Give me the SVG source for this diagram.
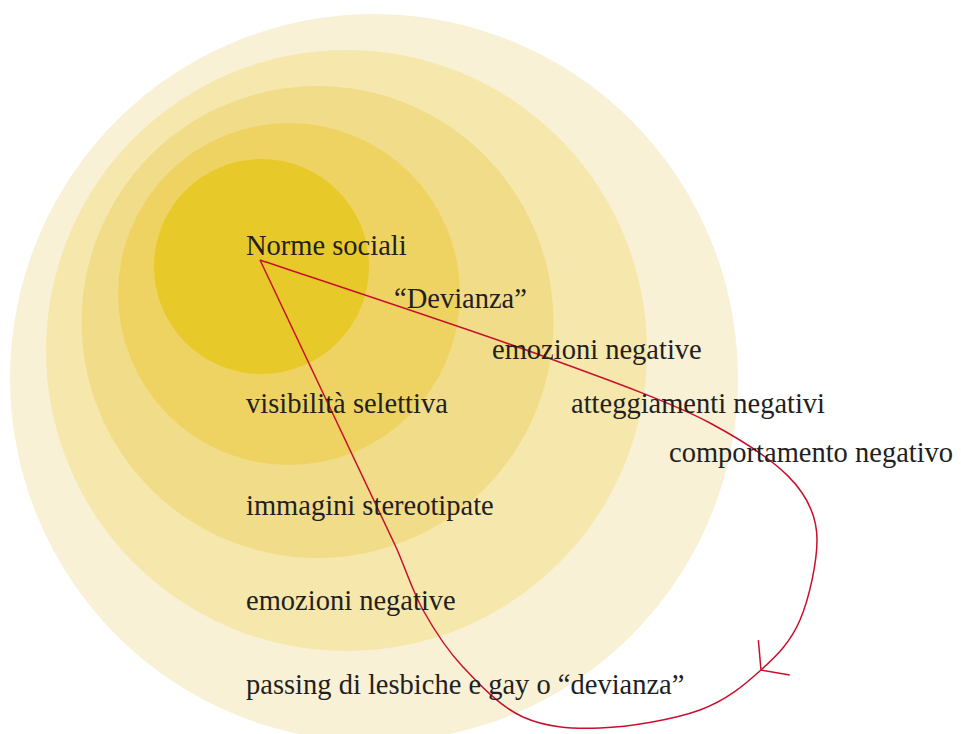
<svg xmlns="http://www.w3.org/2000/svg" width="961" height="734" viewBox="0 0 961 734">
<style>
.lbl{font-family:"Liberation Serif","Times New Roman",serif;font-size:28.5px;fill:#231F20}
.con{fill:none;stroke:#C8102E;stroke-width:1.5;stroke-linejoin:round}
</style>
<defs>
<marker id="arr" viewBox="-35 -30 40 60" refX="0" refY="0" markerWidth="40" markerHeight="60" markerUnits="userSpaceOnUse" orient="auto">
<path d="M-18,-23 L0,0 L-18,24" fill="none" stroke="#C8102E" stroke-width="1.5"/>
</marker>
</defs>
<rect width="961" height="734" fill="#FFFFFF"/>
<g id="rings">
<circle id="ring5" cx="374" cy="378" r="364" fill="#F8F1D5"/>
<circle id="ring4" cx="346.5" cy="350.5" r="300.5" fill="#F6E8AC"/>
<circle id="ring3" cx="317.5" cy="322" r="236" fill="#F1DC89"/>
<circle id="ring2" cx="289" cy="294" r="171" fill="#EFD362"/>
<circle id="ring1" cx="261.5" cy="266.5" r="107.5" fill="#E8C92A"/>
</g>
<g id="connectors">
<path class="con" marker-end="url(#arr)" d="M260,260 C306.7,275.8 465,327.8 540,355 C615,382.2 674.8,404 710,423 C775,458 817,490 817,540 C817,562 809.3,598.3 800,620 C790.7,641.7 777.7,655 761,670"/>
<path class="con" d="M761,670 C744.3,685 726.8,700.3 700,710 C673.2,719.7 629.5,726.8 600,728 C570.5,729.2 545.8,727.2 523,717 C500.2,706.8 479.7,684.8 463,667 C446.3,649.2 434.3,630.3 423,610 C411.7,589.7 403.6,563.1 395,545 L260,260"/>
</g>
<g id="n-norme"><text class="lbl" x="246" y="255">Norme sociali</text></g>
<g id="n-devianza"><text class="lbl" x="394" y="308">“Devianza”</text></g>
<g id="n-emozioni-r"><text class="lbl" x="492" y="359">emozioni negative</text></g>
<g id="n-atteggiamenti"><text class="lbl" x="571" y="413">atteggiamenti negativi</text></g>
<g id="n-comportamento"><text class="lbl" x="669" y="462">comportamento negativo</text></g>
<g id="n-visibilita"><text class="lbl" x="246" y="413">visibilità selettiva</text></g>
<g id="n-immagini"><text class="lbl" x="246" y="515">immagini stereotipate</text></g>
<g id="n-emozioni-l"><text class="lbl" x="246" y="610">emozioni negative</text></g>
<g id="n-passing"><text class="lbl" x="246" y="694">passing di lesbiche e gay o “devianza”</text></g>
</svg>
